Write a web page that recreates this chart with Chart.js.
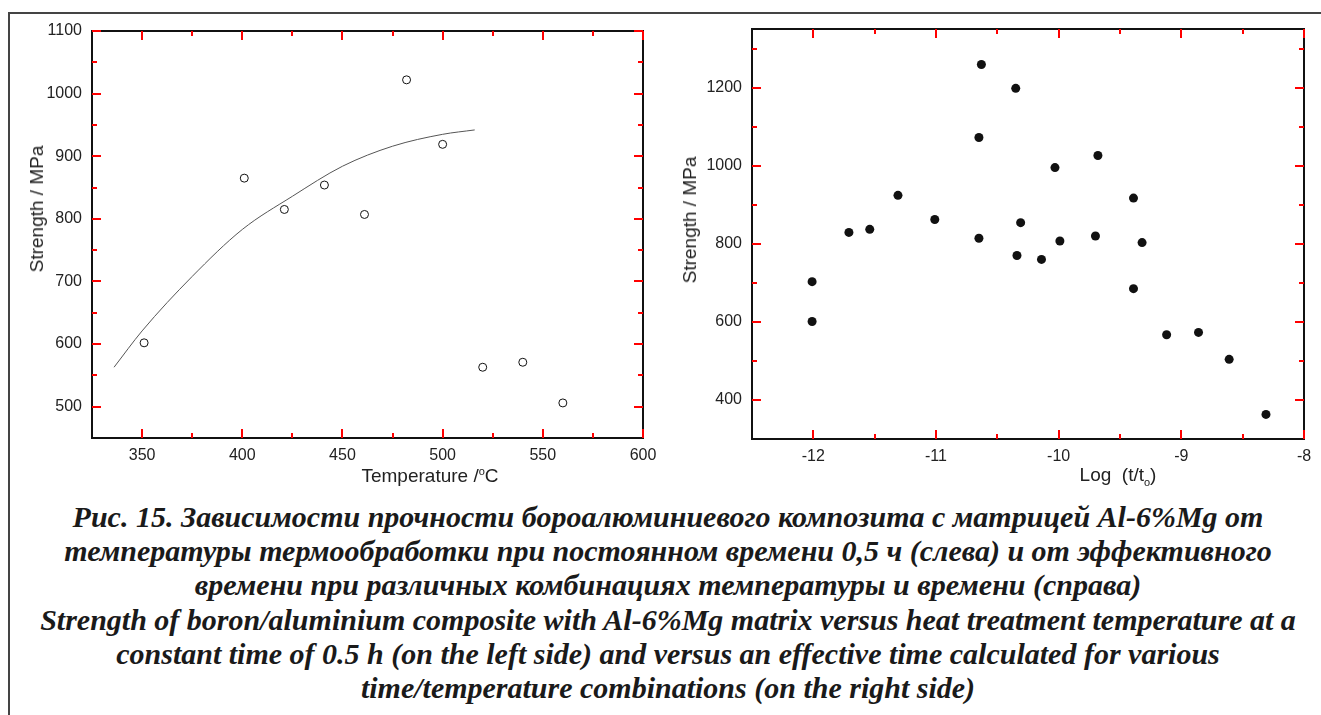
<!DOCTYPE html>
<html>
<head>
<meta charset="utf-8">
<script src="https://cdn.jsdelivr.net/npm/chart.js@4"></script>
<style>
    body { margin: 0; background: #fff; width: 1321px; height: 715px; overflow: hidden; position: relative;
           font-family: "Liberation Sans", Arial, sans-serif; color: #222; }
    #frame { position: absolute; left: 8px; top: 12px; width: 1313px; height: 703px;
             border-top: 2px solid #444; border-left: 2px solid #444; box-sizing: border-box; }
    canvas { position: absolute; top: 0; }
    #leftChart { left: 0; }
    #rightChart { left: 660px; }
    .ytitle { position: absolute; font-size: 19px; white-space: nowrap; transform: translate(-50%, -50%) rotate(-90deg); }
    .xtitle { position: absolute; font-size: 19px; white-space: nowrap; transform: translate(-50%, -50%); }
    .xtitle sup, .xtitle sub { font-size: 11px; }
    #caption { position: absolute; left: 15px; width: 1306px; top: 500px; color: #1a1a1a;
               font-family: "Liberation Serif", "Times New Roman", serif; font-weight: bold; font-style: italic;
               font-size: 30px; line-height: 34.2px; text-align: center; white-space: nowrap; }
</style>
</head>
<body>
<div id="frame"></div>
<canvas id="leftChart" width="660" height="500"></canvas>
<canvas id="rightChart" width="661" height="500"></canvas>

<div class="ytitle" style="left:37px; top:209px;">Strength / MPa</div>
<div class="xtitle" style="left:430px; top:476px;">Temperature /<sup>o</sup>C</div>
<div class="ytitle" style="left:690px; top:220px;">Strength / MPa</div>
<div class="xtitle" style="left:1118px; top:476px;">Log&nbsp;&nbsp;(t/t<sub>o</sub>)</div>

<div id="caption">
    <div>Рис. 15. Зависимости прочности бороалюминиевого композита с матрицей Al-6%Mg от</div>
    <div>температуры термообработки при постоянном времени 0,5 ч (слева) и от эффективного</div>
    <div>времени при различных комбинациях температуры и времени (справа)</div>
    <div>Strength of boron/aluminium composite with Al-6%Mg matrix versus heat treatment temperature at a</div>
    <div>constant time of 0.5 h (on the left side) and versus an effective time calculated for various</div>
    <div>time/temperature combinations (on the right side)</div>
</div>

<script>
// Left chart: strength vs heat treatment temperature (0.5 h)
const tempC = [351, 401, 421, 441, 461, 482, 500, 520, 540, 560];
const strengthTemp = [602, 865, 815, 854, 807, 1022, 919, 563, 571, 506];
// fitted curve
const fitTemp = [336, 350, 375, 400, 425, 450, 475, 500, 516];
const fitStrength = [563, 621, 708, 783, 836, 884, 916, 935, 942];

const leftXTicks = [350, 400, 450, 500, 550, 600];
const leftXMinor = [375, 425, 475, 525, 575];
const leftYTicks = [500, 600, 700, 800, 900, 1000, 1100];
const leftYMinor = [550, 650, 750, 850, 950, 1050];

// Right chart: strength vs effective time log(t/to)
const logTime = [-12.01, -11.71, -11.54, -11.31, -11.01, -10.63, -10.65, -10.65, -10.35, -10.31, -10.34, -10.14,
                 -10.03, -9.99, -9.68, -9.70, -9.39, -9.32, -9.39, -12.01, -9.12, -8.86, -8.61, -8.31];
const strengthTime = [703, 829, 837, 924, 862, 1259, 1072, 814, 1198, 854, 770, 760,
                      995, 807, 1026, 820, 917, 803, 685, 601, 567, 573, 504, 363];

const rightXTicks = [-12, -11, -10, -9, -8];
const rightXMinor = [-11.5, -10.5, -9.5, -8.5];
const rightYTicks = [400, 600, 800, 1000, 1200];
const rightYMinor = [500, 700, 900, 1100, 1300];

Chart.defaults.font.family = '"Liberation Sans", Arial, sans-serif';
Chart.defaults.font.size = 16;
Chart.defaults.color = '#222';

// box round the plot and inward ticks on all four sides
function makeFrame(cfg) {
    return {
        id: 'frameTicks',
        afterDraw(chart) {
            const ctx = chart.ctx;
            const a = chart.chartArea;
            const xs = chart.scales.x;
            const ys = chart.scales.y;
            const w = a.right - a.left;
            const h = a.bottom - a.top;
            ctx.save();
            ctx.fillStyle = '#111';
            ctx.fillRect(a.left - 1, a.top - 1, w + 2, 2);
            ctx.fillRect(a.left - 1, a.bottom - 1, w + 2, 2);
            ctx.fillRect(a.left - 1, a.top - 1, 2, h + 2);
            ctx.fillRect(a.right - 1, a.top - 1, 2, h + 2);

            ctx.fillStyle = '#f00';
            function xTicks(vals, len) {
                vals.forEach(v => {
                    const px = Math.round(xs.getPixelForValue(v));
                    ctx.fillRect(px - 1, a.bottom - len, 2, len);
                    ctx.fillRect(px - 1, a.top, 2, len);
                });
            }
            function yTicks(vals, len) {
                vals.forEach(v => {
                    const py = Math.round(ys.getPixelForValue(v));
                    ctx.fillRect(a.left, py - 1, len, 2);
                    ctx.fillRect(a.right - len, py - 1, len, 2);
                });
            }
            xTicks(cfg.xTicks, 9);
            xTicks(cfg.xMinor, 5);
            yTicks(cfg.yTicks, 9);
            yTicks(cfg.yMinor, 5);
            ctx.restore();
        }
    };
}

function makeScale(min, max, ticks, size, isX) {
    return {
        type: 'linear',
        min: min,
        max: max,
        grid: { display: false, drawTicks: false },
        border: { display: false },
        ticks: {
            padding: isX ? 8 : 10,
            color: '#222',
            autoSkip: false,
            maxRotation: 0,
            callback: v => String(v)
        },
        afterBuildTicks: s => { s.ticks = ticks.map(v => ({ value: v })); },
        afterFit: s => {
            // keep the plot box where the layout padding puts it
            s.paddingLeft = 0; s.paddingRight = 0;
            s.paddingTop = 0; s.paddingBottom = 0;
            if (isX) s.height = size;
            else s.width = size;
        }
    };
}

function createChart(canvasId, datasets, cfg) {
    const ctx = document.getElementById(canvasId).getContext('2d');
    return new Chart(ctx, {
        type: 'scatter',
        data: { datasets: datasets },
        options: {
            responsive: false,
            animation: false,
            events: [],
            layout: { padding: { top: cfg.top, right: cfg.right, left: 0, bottom: 0 } },
            plugins: {
                legend: { display: false },
                tooltip: { enabled: false }
            },
            scales: {
                x: makeScale(cfg.xMin, cfg.xMax, cfg.xTicks, cfg.xHeight, true),
                y: makeScale(cfg.yMin, cfg.yMax, cfg.yTicks, cfg.yWidth, false)
            }
        },
        plugins: [makeFrame(cfg)]
    });
}

createChart('leftChart', [
    {
        label: 'Strength',
        data: tempC.map((t, i) => ({ x: t, y: strengthTemp[i] })),
        pointRadius: 4,
        pointBorderWidth: 1,
        pointBorderColor: '#111',
        pointBackgroundColor: '#fff',
        showLine: false
    },
    {
        label: 'Fit',
        data: fitTemp.map((t, i) => ({ x: t, y: fitStrength[i] })),
        showLine: true,
        borderColor: '#555',
        borderWidth: 1,
        pointRadius: 0,
        cubicInterpolationMode: 'monotone',
        fill: false
    }
], {
    top: 31, right: 17, xHeight: 62, yWidth: 92,
    xMin: 325, xMax: 600, yMin: 450, yMax: 1100,
    xTicks: leftXTicks, xMinor: leftXMinor, yTicks: leftYTicks, yMinor: leftYMinor
});

createChart('rightChart', [
    {
        label: 'Strength',
        data: logTime.map((t, i) => ({ x: t, y: strengthTime[i] })),
        pointRadius: 4.5,
        pointBorderWidth: 0,
        pointBackgroundColor: '#111',
        showLine: false
    }
], {
    top: 29, right: 17, xHeight: 61, yWidth: 92,
    xMin: -12.5, xMax: -8, yMin: 300, yMax: 1350,
    xTicks: rightXTicks, xMinor: rightXMinor, yTicks: rightYTicks, yMinor: rightYMinor
});
</script>
</body>
</html>
